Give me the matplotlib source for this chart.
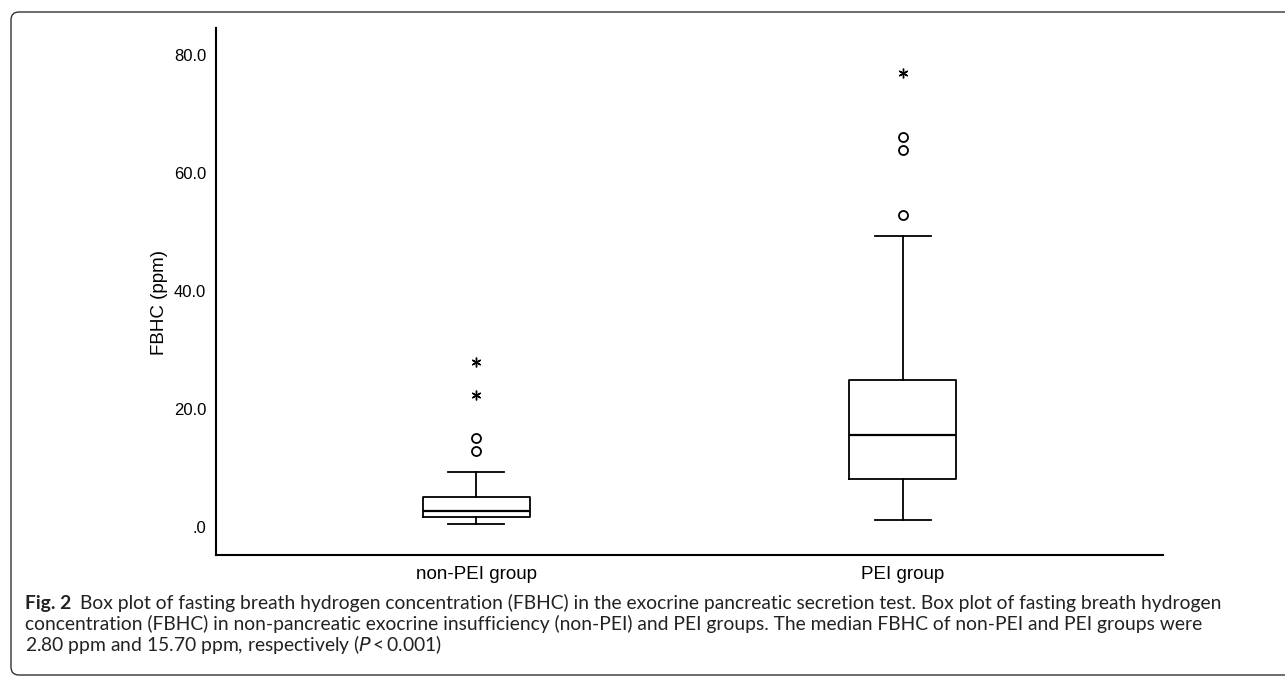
import matplotlib
matplotlib.use("Agg")
import matplotlib.pyplot as plt
from matplotlib.patches import FancyBboxPatch
from matplotlib.transforms import IdentityTransform

# groups and box statistics (ppm)
groups = ["non-PEI group", "PEI group"]
q1 = [1.7, 8.1]
median = [2.8, 15.7]
q3 = [5.1, 24.9]
whisker_low = [0.5, 1.2]
whisker_high = [9.3, 49.3]
# mild outliers (circles) and extreme outliers (asterisks)
outliers = [[13.0, 15.1], [52.9, 63.9, 66.1]]
extremes = [[22.4, 28.0], [77.0]]
yticks = [0, 20, 40, 60, 80]
ytick_labels = [".0", "20.0", "40.0", "60.0", "80.0"]

caption_bold = "Fig. 2"
caption_lines = [
    "Box plot of fasting breath hydrogen concentration (FBHC) in the exocrine pancreatic secretion test. Box plot of fasting breath hydrogen",
    "concentration (FBHC) in non-pancreatic exocrine insufficiency (non-PEI) and PEI groups. The median FBHC of non-PEI and PEI groups were",
    "2.80 ppm and 15.70 ppm, respectively ($\\it{P}$\u2009<\u20090.001)",
]

W, H = 1285, 676
fig = plt.figure(figsize=(W / 100, H / 100), dpi=100)
ax = fig.add_axes([216 / W, 1 - 555 / H, (1163 - 216) / W, (555 - 28) / H])

stats = []
for i in range(len(groups)):
    stats.append(dict(med=median[i], q1=q1[i], q3=q3[i],
                      whislo=whisker_low[i], whishi=whisker_high[i], fliers=[]))

pos = [1, 2]
ax.bxp(stats, positions=pos, widths=0.25, showfliers=False,
       boxprops=dict(color="black", lw=1.3),
       medianprops=dict(color="black", lw=1.6),
       whiskerprops=dict(color="black", lw=1.3),
       capprops=dict(color="black", lw=1.3),
       capwidths=0.13)

for p, vals in zip(pos, outliers):
    ax.plot([p] * len(vals), vals, "o", ms=6.5, mfc="white", mec="black", mew=1.3, ls="none")
for p, vals in zip(pos, extremes):
    ax.plot([p] * len(vals), vals, marker=(6, 2, 0), ms=7, color="black", mew=1.0, ls="none")

ax.set_xlim(0.39, 2.61)
ax.set_ylim(-4.7, 84.6)
ax.set_yticks(yticks)
ax.set_yticklabels(ytick_labels, fontsize=12, family="Liberation Sans")
ax.set_xticks(pos)
ax.set_xticklabels(groups, fontsize=13.5, family="Liberation Sans")
ax.tick_params(axis="both", length=0)
ax.tick_params(axis="y", pad=7)
ax.tick_params(axis="x", pad=8)
ax.set_ylabel("FBHC (ppm)", fontsize=13.5, family="Liberation Sans")
ax.yaxis.set_label_coords(-0.051, 0.48)
for s in ["top", "right"]:
    ax.spines[s].set_visible(False)
for s in ["left", "bottom"]:
    ax.spines[s].set_linewidth(1.5)

# rounded frame around figure, running off the right edge
frame = FancyBboxPatch((11, 1), 1400, H - 13, boxstyle="round,pad=0,rounding_size=8",
                       transform=IdentityTransform(), fill=False, ec="#333333", lw=1.0)
fig.patches.append(frame)

cap_font = "Lato"
cap_size = 13.9
line_y = [603, 624, 645]
renderer = fig.canvas.get_renderer()
t = fig.text(25 / W, 1 - line_y[0] / H, caption_bold, fontsize=cap_size, weight="bold",
             family=cap_font, va="center", color="#222222")
bb = t.get_window_extent(renderer)
fig.text((bb.x1 + 9) / W, 1 - line_y[0] / H, caption_lines[0], fontsize=cap_size,
         family=cap_font, va="center", color="#222222")
for line, y in zip(caption_lines[1:], line_y[1:]):
    fig.text(25 / W, 1 - y / H, line, fontsize=cap_size, family=cap_font, va="center", color="#222222")

fig.savefig("out.png", dpi=100)
